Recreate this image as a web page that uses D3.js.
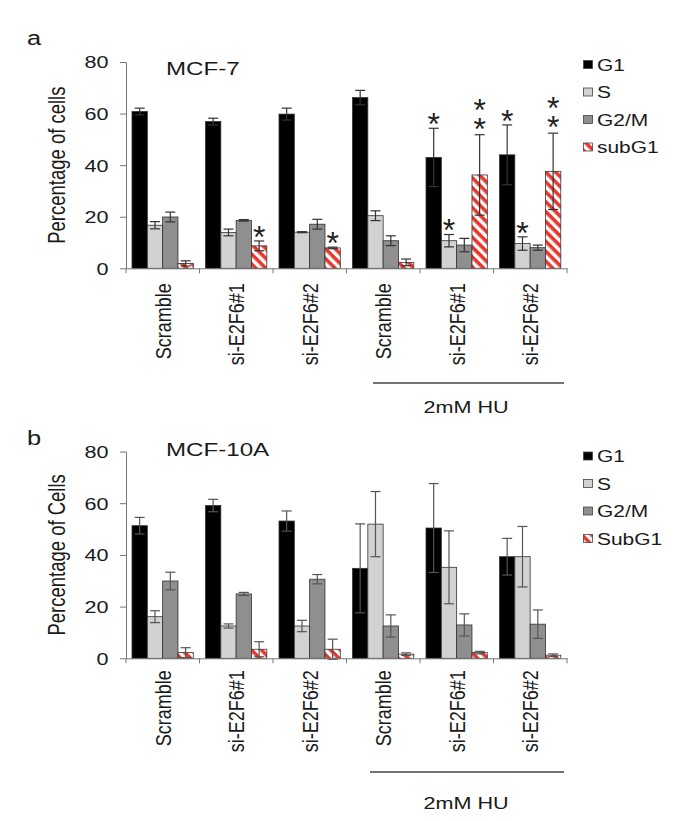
<!DOCTYPE html>
<html><head><meta charset="utf-8">
<script src="https://cdn.jsdelivr.net/npm/d3@7"></script>
<style>body{margin:0;background:#fff}svg{display:block}
.vstar{writing-mode:vertical-rl;text-orientation:upright;letter-spacing:-17px}</style>
</head><body><svg id="c" width="698" height="821"></svg>
<script>
// ---------- DATA ----------
const categories = ["Scramble","si-E2F6#1","si-E2F6#2","Scramble","si-E2F6#1","si-E2F6#2"];
const seriesNames = ["G1","S","G2/M","subG1"];
const seriesNamesB = ["G1","S","G2/M","SubG1"];
const yTicks = [0,20,40,60,80];
const groupLabel = "2mM HU";
const starText = ["", "*", "**"];

// Panel a: MCF-7
const mcf7_G1   = [60.8, 56.9, 59.8, 66.2, 43.0, 44.0];
const mcf7_S    = [16.7, 13.9, 14.0, 20.4, 10.7, 9.6];
const mcf7_G2M  = [19.9, 18.6, 17.1, 10.7, 9.0, 8.0];
const mcf7_sub  = [1.9, 8.7, 7.9, 2.3, 36.2, 37.6];
const mcf7_G1e  = [1.3, 1.3, 2.3, 2.8, 11.3, 11.6];
const mcf7_Se   = [1.4, 1.3, 0.2, 1.9, 2.4, 2.6];
const mcf7_G2Me = [1.9, 0.3, 1.9, 1.9, 2.6, 1.0];
const mcf7_sube = [1.0, 1.9, 0.3, 1.3, 15.6, 14.8];
// number of significance stars per group [G1,S,G2/M,subG1]
const mcf7_stars = [[0,0,0,0],[0,0,0,1],[0,0,0,1],[0,0,0,0],[1,1,0,2],[1,1,0,2]];

// Panel b: MCF-10A
const mcf10_G1   = [51.3, 59.1, 53.1, 34.8, 50.4, 39.3];
const mcf10_S    = [16.1, 12.5, 12.5, 51.9, 35.2, 39.3];
const mcf10_G2M  = [29.9, 24.9, 30.6, 12.5, 12.9, 13.2];
const mcf10_sub  = [2.2, 3.5, 3.5, 1.6, 2.2, 1.2];
const mcf10_G1e  = [3.2, 2.4, 3.9, 17.2, 17.2, 7.1];
const mcf10_Se   = [2.3, 0.8, 2.2, 12.6, 14.1, 11.7];
const mcf10_G2Me = [3.4, 0.6, 1.8, 4.3, 4.3, 5.5];
const mcf10_sube = [1.9, 2.9, 3.9, 0.5, 0.5, 0.5];

// ---------- DRAW ----------
const SX = 1.27;
const FONT = "'Liberation Sans', Arial, Helvetica, sans-serif";
const svg = d3.select("#c").style("font-family", FONT);
const defs = svg.append("defs");
const pat = defs.append("pattern").attr("id","stripe").attr("patternUnits","userSpaceOnUse")
  .attr("width",7).attr("height",7).attr("patternTransform","rotate(45)");
pat.append("rect").attr("width",7).attr("height",7).attr("fill","#fff");
pat.append("rect").attr("width",7).attr("height",3.6).attr("fill","#e8362c");

const fills = ["#000","#d2d2d2","#8f8f8f","url(#stripe)"];

function stext(g, x, y, str, size, anchor, rot) {
  return g.append("text")
    .attr("transform", `translate(${x},${y}) scale(${SX},1)` + (rot ? ` rotate(${rot})` : ""))
    .attr("text-anchor", anchor || "start")
    .attr("font-size", size).attr("fill", "#1a1a1a").text(str);
}

function drawPanel(p) {
  const g = svg.append("g");
  const y = d3.scaleLinear().domain([0,80]).range([p.y0, p.y80]);
  const x0 = d3.scaleBand().domain(d3.range(categories.length)).range([126, 567]);
  const x1 = d3.scaleBand().domain(d3.range(seriesNames.length)).range([6, 67.3]);
  const bw = x1.bandwidth();

  // bars
  p.values.forEach((vals, si) => {
    g.append("g").selectAll("rect").data(vals).join("rect")
      .attr("x", (d,i) => x0(i) + x1(si)).attr("y", d => y(d))
      .attr("width", bw).attr("height", d => y(0) - y(d))
      .attr("fill", fills[si]).attr("stroke", "#333").attr("stroke-width", 0.8);
  });
  // error bars
  p.values.forEach((vals, si) => {
    const eg = g.append("g").attr("stroke", p.errColor).attr("stroke-width", 1.2);
    vals.forEach((v, i) => {
      const e = p.errs[si][i];
      const cx = x0(i) + x1(si) + bw/2;
      eg.append("line").attr("x1", cx).attr("x2", cx).attr("y1", y(v - e)).attr("y2", y(v + e));
      [v - e, v + e].forEach(t => eg.append("line").attr("x1", cx - 5).attr("x2", cx + 5).attr("y1", y(t)).attr("y2", y(t)));
    });
  });
  // stars
  if (p.stars) {
    p.stars.forEach((row, i) => row.forEach((n, si) => {
      if (!n) return;
      const v = p.values[si][i], e = p.errs[si][i];
      const cx = x0(i) + x1(si) + bw/2;
      const top = y(v + e);
      if (n === 1) {
        g.append("text").attr("x", cx).attr("y", top - 11.5 + 18.4).attr("text-anchor","middle")
          .attr("font-size", 32).attr("fill", "#222").text(starText[1]);
      } else {
        g.append("text").attr("class", "vstar").attr("x", cx).attr("y", top - 43)
          .attr("font-size", 32).attr("fill", "#222").text(starText[2]);
      }
    }));
  }
  // y axis
  const ya = g.append("g").attr("transform", "translate(126,0)")
    .call(d3.axisLeft(y).tickValues(yTicks).tickSize(6).tickSizeOuter(0));
  ya.select(".domain").attr("stroke", "#777");
  ya.selectAll(".tick line").attr("stroke", "#777");
  ya.selectAll(".tick text").attr("x", null).attr("dy", "0.35em")
    .attr("transform", `translate(-17.5,0) scale(${SX},1)`)
    .attr("font-size", 17).attr("font-family", FONT).attr("fill", "#1a1a1a");
  // x axis
  const xa = g.append("g").attr("transform", `translate(0,${y(0)})`)
    .call(d3.axisBottom(x0).tickSize(0).tickSizeOuter(0).tickFormat(i => categories[i]));
  xa.select(".domain").attr("stroke", "#777");
  xa.selectAll(".tick text").attr("y", null).attr("dy", "0.35em")
    .attr("transform", `translate(0,${p.labelGap}) scale(${SX},1) rotate(-90)`)
    .attr("text-anchor", "end").attr("font-size", 18).attr("font-family", FONT).attr("fill", "#1a1a1a");
  const bounds = d3.range(categories.length + 1).map(i => i < categories.length ? x0(i) : x0(i-1) + x0.bandwidth());
  g.append("g").selectAll("line").data(bounds).join("line")
    .attr("x1", d => d).attr("x2", d => d).attr("y1", y(0)).attr("y2", y(0) + 5)
    .attr("stroke", "#777");
  // y title
  stext(g, 65, (p.y0 + p.y80)/2, p.yTitle, 18.5, "middle", -90);
  // panel letter and title
  stext(g, 27, p.letterY, p.letter, 20, "start");
  stext(g, 166, p.titleY, p.title, 19, "start");
  // legend
  p.legend.forEach((name, si) => {
    const cy = p.legendY + 27.5*si;
    g.append("rect").attr("x", 583.5).attr("y", cy - 4).attr("width", 9).attr("height", 8)
      .attr("fill", fills[si]).attr("stroke", "#444").attr("stroke-width", 0.8);
    stext(g, 597, cy + 6, name, 16.5, "start");
  });
  // treatment bracket
  g.append("line").attr("x1", p.huX1).attr("x2", 564).attr("y1", p.huLineY).attr("y2", p.huLineY)
    .attr("stroke", "#444").attr("stroke-width", 1.3);
  stext(g, 466, p.huTextY, groupLabel, 17, "middle");
}

drawPanel({
  letter: "a", letterY: 45, title: "MCF-7", titleY: 75,
  y0: 268.3, y80: 62, labelGap: 15, yTitle: "Percentage of cells",
  values: [mcf7_G1, mcf7_S, mcf7_G2M, mcf7_sub],
  errs: [mcf7_G1e, mcf7_Se, mcf7_G2Me, mcf7_sube],
  stars: mcf7_stars, errColor: "#333",
  legend: seriesNames, legendY: 64.5,
  huX1: 373, huLineY: 383, huTextY: 413
});
drawPanel({
  letter: "b", letterY: 445, title: "MCF-10A", titleY: 456,
  y0: 658.3, y80: 451.5, labelGap: 12, yTitle: "Percentage of Cells",
  values: [mcf10_G1, mcf10_S, mcf10_G2M, mcf10_sub],
  errs: [mcf10_G1e, mcf10_Se, mcf10_G2Me, mcf10_sube],
  stars: null, errColor: "#555",
  legend: seriesNamesB, legendY: 456,
  huX1: 370, huLineY: 772, huTextY: 809
});
</script></body></html>
